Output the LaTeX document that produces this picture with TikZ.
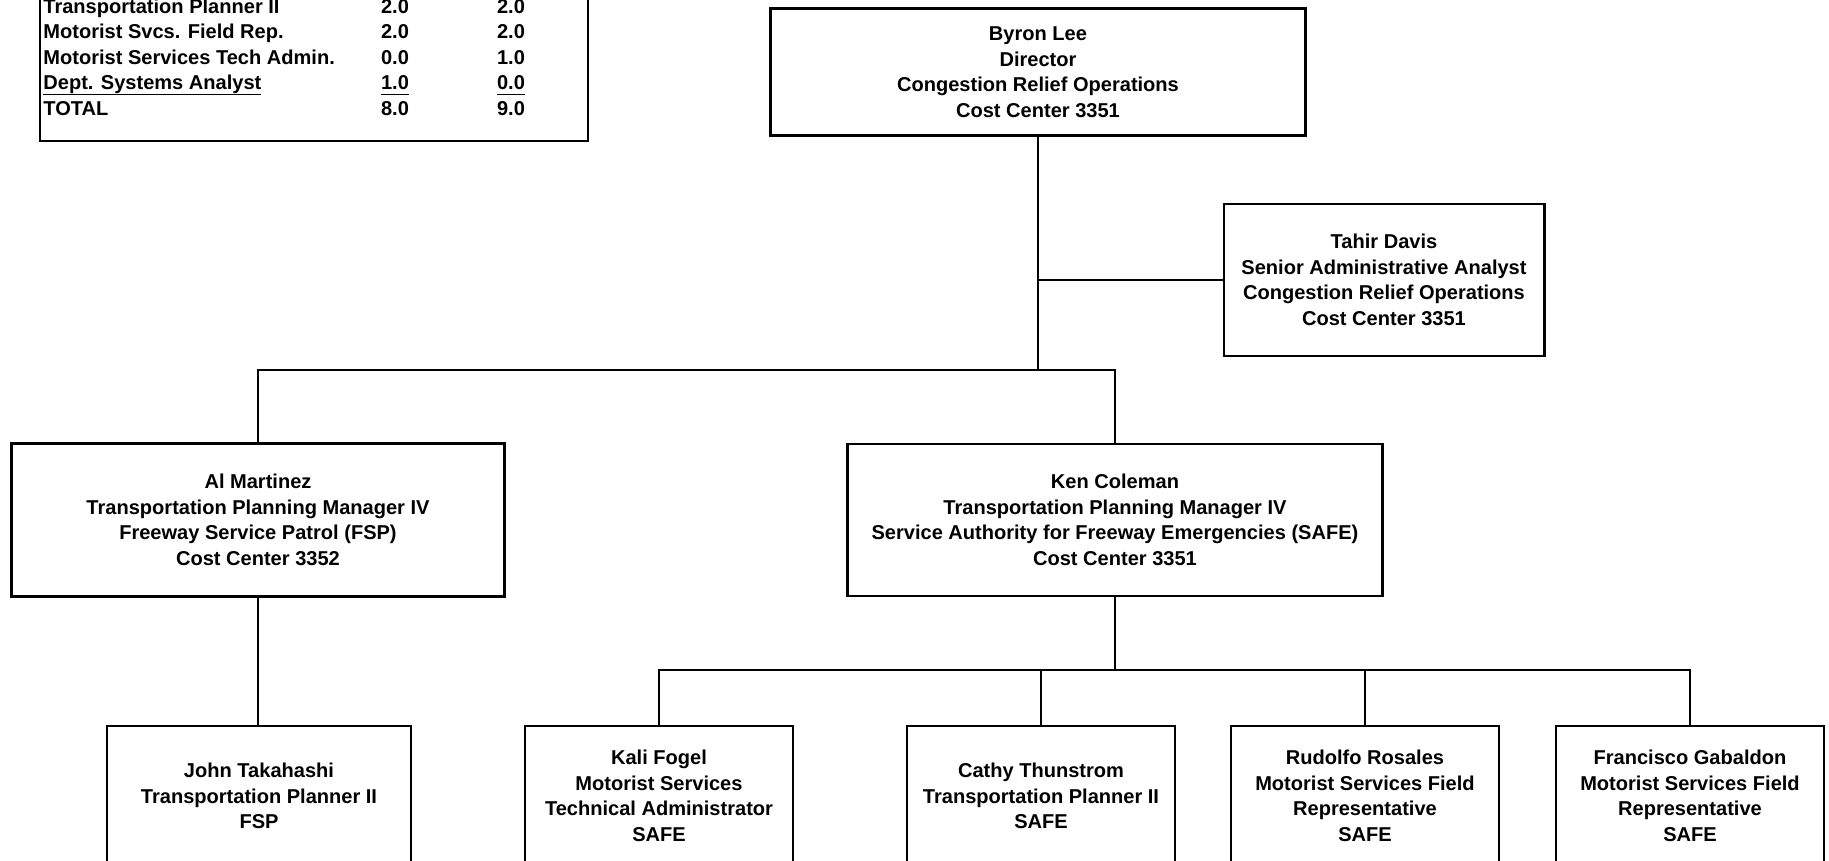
\documentclass[tikz,border=0pt]{standalone}
\usepackage{fontspec}
\setmainfont{Liberation Sans}
\newcommand{\ulbase}[1]{\underline{\smash{#1}}}
\begin{document}
\begin{tikzpicture}[x=0.01cm, y=-0.01cm, line width=0.8pt,
    every node/.style={align=center, font=\bfseries\fontsize{5.7}{7.25}\selectfont},
    person/.style={draw, line width=0.8pt, inner sep=0pt, minimum width=2.68cm, minimum height=1.40cm},
    cell/.style={inner sep=0pt}]
    \useasboundingbox (0,0) rectangle (1829,861);
    \clip (0,0) rectangle (1829,861);

    % position table (top is cut off)
    \draw (40,-30) rectangle (588,141);
    \foreach \lbl/\a/\b [count=\i] in {Transportation Planner II/2.0/2.0, Motorist Svcs. Field Rep./2.0/2.0, Motorist Services Tech Admin./0.0/1.0, {\ulbase{Dept. Systems Analyst}}/{\ulbase{1.0}}/{\ulbase{0.0}}, TOTAL/8.0/9.0} {
        \node[cell, anchor=west] (item\i) at (42,{8+25.5*(\i-1)}) {\strut\lbl};
        \node[cell] (old\i) at (395,{8+25.5*(\i-1)}) {\strut\a};
        \node[cell] (new\i) at (511,{8+25.5*(\i-1)}) {\strut\b};
    }

    \node[person, minimum width=5.34cm, minimum height=1.27cm] (director) at (1038,72) {Byron Lee\\Director\\Congestion Relief Operations\\Cost Center 3351};
    \node[person, minimum width=3.20cm, minimum height=1.52cm] (analyst) at (1384,280) {Tahir Davis\\Senior Administrative Analyst\\Congestion Relief Operations\\Cost Center 3351};
    \node[person, minimum width=4.93cm, minimum height=1.53cm] (fsp) at (258,520) {Al Martinez\\Transportation Planning Manager IV\\Freeway Service Patrol (FSP)\\Cost Center 3352};
    \node[person, minimum width=5.35cm, minimum height=1.52cm] (safe) at (1115,520) {Ken Coleman\\Transportation Planning Manager IV\\Service Authority for Freeway Emergencies (SAFE)\\Cost Center 3351};

    \node[person, minimum width=3.04cm] (takahashi) at (259,796) {John Takahashi\\Transportation Planner II\\FSP};
    \node[person] (fogel) at (659,796) {Kali Fogel\\Motorist Services\\Technical Administrator\\SAFE};
    \node[person] (thunstrom) at (1041,796) {Cathy Thunstrom\\Transportation Planner II\\SAFE};
    \node[person] (rosales) at (1365,796) {Rudolfo Rosales\\Motorist Services Field\\Representative\\SAFE};
    \node[person] (gabaldon) at (1690,796) {Francisco Gabaldon\\Motorist Services Field\\Representative\\SAFE};

    \coordinate (split) at (1038,370);
    \coordinate (fork) at (1115,670);

    \draw (director.south) -- (split);
    \draw (analyst.west) -- (analyst.west -| split);
    \draw (fsp.north) |- (split) -| (safe.north);
    \draw (fsp.south) -- (fsp.south |- takahashi.north);
    \draw (safe.south) -- (fork);
    \draw (fogel.north) |- (fork) -| (gabaldon.north);
    \foreach \n in {thunstrom, rosales}
        \draw (\n.north) -- (\n.north |- fork);
\end{tikzpicture}
\end{document}
